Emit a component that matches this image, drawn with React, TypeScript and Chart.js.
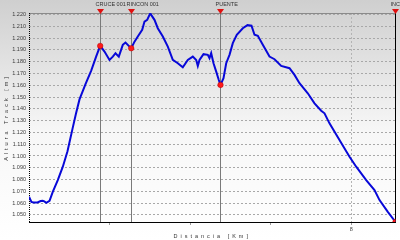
import React, { useEffect, useRef } from 'react';
import { Chart, registerables } from 'chart.js';

Chart.register(...registerables);

// Elevation profile (distance in km, altitude in m)
const profileKm = [
  0.0, 0.06, 0.11, 0.21, 0.29, 0.34, 0.38, 0.43, 0.51, 0.59, 0.715, 0.84, 0.956, 1.018, 1.08, 1.167,
  1.254, 1.403, 1.545, 1.669, 1.768, 1.875, 1.999, 2.081, 2.148, 2.23, 2.329, 2.396, 2.496, 2.538,
  2.62, 2.702, 2.811, 2.868, 2.935, 3.01, 3.116, 3.198, 3.323, 3.447, 3.571, 3.695, 3.819, 3.943,
  4.068, 4.152, 4.192, 4.234, 4.333, 4.44, 4.482, 4.524, 4.582, 4.649, 4.713, 4.755, 4.83, 4.897,
  4.979, 5.061, 5.16, 5.309, 5.426, 5.525, 5.6, 5.682, 5.806, 5.972, 6.096, 6.263, 6.469, 6.593,
  6.717, 6.923, 7.09, 7.256, 7.338, 7.462, 7.71, 7.959, 8.125, 8.373, 8.579, 8.704, 8.91, 9.101,
];
const profileElev = [
  1065.4, 1061.1, 1060.5, 1060.6, 1061.8, 1062.0, 1061.5, 1060.3, 1062.0, 1069.6, 1079.6, 1090.9, 1104.0, 1113.5, 1123.0, 1136.0,
  1148.0, 1161.0, 1172.5, 1184.5, 1193.4, 1188.6, 1181.5, 1184.3, 1187.2, 1184.3, 1194.3, 1196.2, 1192.8, 1191.4,
  1197.0, 1201.3, 1207.0, 1214.0, 1215.5, 1221.0, 1215.5, 1208.4, 1201.3, 1192.8, 1181.5, 1178.7, 1175.3, 1181.5,
  1184.3, 1181.5, 1176.4, 1181.5, 1186.4, 1185.8, 1183.0, 1187.2, 1178.7, 1171.6, 1164.5, 1160.3, 1166.0, 1178.7,
  1185.8, 1195.7, 1202.8, 1208.4, 1211.0, 1210.5, 1202.8, 1201.9, 1194.3, 1184.3, 1182.1, 1176.4, 1174.5, 1168.8,
  1161.7, 1153.2, 1144.7, 1138.4, 1136.2, 1127.7, 1113.5, 1099.4, 1090.9, 1079.6, 1071.1, 1062.6, 1052.6, 1044.1,
];

// Waypoints
const markerNames = ['CRUCE 001', 'RINCON 001', 'PUENTE', 'INC'];
const markerKm = [1.768, 2.538, 4.755, 9.101];
const markerElev = [1193.4, 1191.4, 1160.3, 1044.1];

// Axes
const yTickValues = [1050, 1060, 1070, 1080, 1090, 1100, 1110, 1120, 1130, 1140, 1150, 1160, 1170, 1180, 1190, 1200, 1210, 1220];
const xTickValues = [2, 4, 6, 8];
const xTickLabels = ['', '', '', '8'];
const yTitle = 'Altura Track [m]';
const xTitle = 'Distancia [Km]';

const FONT = "'Liberation Sans', Arial, sans-serif";

const spaceTitle = (scale: any) => {
  if (scale.__spaced) return;
  scale.__spaced = true;
  const orig = scale.drawTitle.bind(scale);
  scale.drawTitle = () => {
    const ctx = scale.ctx;
    ctx.save();
    (ctx as any).letterSpacing = '3px';
    orig();
    ctx.restore();
  };
};

const bgPlugin = {
  id: 'bgGradient',
  beforeDraw(chart: any) {
    const { ctx, width, height } = chart;
    const g = ctx.createLinearGradient(0, 0, 0, height);
    g.addColorStop(0, '#cfcfcf');
    g.addColorStop(0.55, '#f7f7f7');
    g.addColorStop(1, '#ffffff');
    ctx.save();
    ctx.fillStyle = g;
    ctx.fillRect(0, 0, width, height);
    ctx.restore();
  },
};

const framePlugin = {
  id: 'frameMarkers',
  beforeDatasetsDraw(chart: any) {
    const { ctx, chartArea: a, scales } = chart;
    const x = scales.x;
    ctx.save();
    ctx.lineWidth = 1;
    // top frame
    ctx.strokeStyle = '#8a8a8a';
    ctx.beginPath();
    ctx.moveTo(a.left, Math.round(a.top) + 0.5);
    ctx.lineTo(a.right, Math.round(a.top) + 0.5);
    ctx.stroke();
    // left dotted axis
    ctx.strokeStyle = '#000';
    ctx.setLineDash([1, 1]);
    ctx.beginPath();
    ctx.moveTo(Math.round(a.left) + 0.5, a.top);
    ctx.lineTo(Math.round(a.left) + 0.5, a.bottom);
    ctx.stroke();
    ctx.setLineDash([]);
    // waypoint lines
    markerKm.forEach((km, i) => {
      const px = Math.round(x.getPixelForValue(km)) + (i === markerKm.length - 1 ? -0.5 : 0.5);
      ctx.strokeStyle = i === markerKm.length - 1 ? '#000' : '#7a7a7a';
      ctx.beginPath();
      ctx.moveTo(px, 9);
      ctx.lineTo(px, a.bottom);
      ctx.stroke();
    });
    ctx.restore();
  },
  afterDraw(chart: any) {
    const { ctx, scales } = chart;
    const x = scales.x;
    ctx.save();
    markerKm.forEach((km, i) => {
      const px = Math.round(x.getPixelForValue(km)) + (i === markerKm.length - 1 ? -0.5 : 0.5);
      ctx.fillStyle = '#e01010';
      ctx.beginPath();
      ctx.moveTo(px - 3.5, 9);
      ctx.lineTo(px + 3.5, 9);
      ctx.lineTo(px, 14);
      ctx.closePath();
      ctx.fill();
      ctx.fillStyle = '#333';
      ctx.font = `5.5px ${FONT}`;
      ctx.textAlign = 'left';
      ctx.textBaseline = 'middle';
      ctx.fillText(markerNames[i], px - 5, 4);
    });
    ctx.restore();
  },
};

export default function App() {
  const ref = useRef<HTMLCanvasElement>(null);

  useEffect(() => {
    if (!ref.current) return;
    const chart = new Chart(ref.current, {
      type: 'line',
      data: {
        datasets: [
          {
            label: 'Waypoints',
            data: markerKm.map((k, i) => ({ x: k, y: markerElev[i] })),
            showLine: false,
            pointRadius: 2.75,
            pointBackgroundColor: '#ff1a1a',
            pointBorderColor: '#b00000',
            pointBorderWidth: 0.5,
          },
          {
            label: 'Altura',
            data: profileKm.map((k, i) => ({ x: k, y: profileElev[i] })),
            borderColor: '#0808d8',
            borderWidth: 2,
            pointRadius: 0,
            tension: 0,
            fill: false,
          },
        ],
      },
      options: {
        responsive: false,
        animation: false,
        events: [],
        layout: { padding: { top: 13, right: 4, left: 0, bottom: 0 } },
        plugins: { legend: { display: false }, tooltip: { enabled: false } },
        scales: {
          x: {
            type: 'linear',
            min: 0,
            max: 9.101,
            afterBuildTicks: (s: any) => {
              s.ticks = xTickValues.map((v) => ({ value: v }));
            },
            afterFit: (s: any) => {
              s.height = 18;
              spaceTitle(s);
            },
            ticks: {
              autoSkip: false,
              maxRotation: 0,
              padding: 1.5,
              color: '#444',
              font: { size: 5.5, family: FONT },
              callback: (v: any) => {
                const idx = xTickValues.indexOf(Number(v));
                return idx >= 0 ? xTickLabels[idx] : '';
              },
            },
            grid: {
              color: (c: any) => (c.tick && c.tick.value === 8 ? '#b4b4b4' : 'rgba(0,0,0,0)'),
              drawTicks: true,
              tickLength: 3,
              tickColor: '#9a9a9a',
              lineWidth: 1,
            },
            border: { display: true, color: '#000', width: 1, dash: [2, 2] },
            title: {
              display: true,
              text: xTitle,
              color: '#333',
              font: { size: 5.5, family: FONT, lineHeight: 1 },
              padding: { top: 0, bottom: 1.25 },
            },
          },
          y: {
            type: 'linear',
            position: 'left',
            min: 1044,
            max: 1221.3,
            afterBuildTicks: (s: any) => {
              s.ticks = yTickValues.map((v) => ({ value: v }));
            },
            afterFit: (s: any) => {
              s.width = 29;
              spaceTitle(s);
            },
            ticks: {
              autoSkip: false,
              padding: 3,
              color: '#3a3a3a',
              font: { size: 5.5, family: FONT },
              callback: (v: any) => (Number(v) / 1000).toFixed(3),
            },
            grid: {
              color: '#a8a8a8',
              drawTicks: false,
              lineWidth: 1,
            },
            border: { display: false, dash: [2, 2] },
            title: {
              display: true,
              text: yTitle,
              color: '#333',
              font: { size: 5.5, family: FONT, lineHeight: 1 },
              padding: { top: 4, bottom: 0 },
            },
          },
        },
      },
      plugins: [bgPlugin, framePlugin],
    });
    return () => chart.destroy();
  }, []);

  return (
    <div style={{ position: 'fixed', left: 0, top: 0, width: 400, height: 240 }}>
      <canvas ref={ref} width={400} height={240} style={{ display: 'block', width: 400, height: 240 }} />
    </div>
  );
}
